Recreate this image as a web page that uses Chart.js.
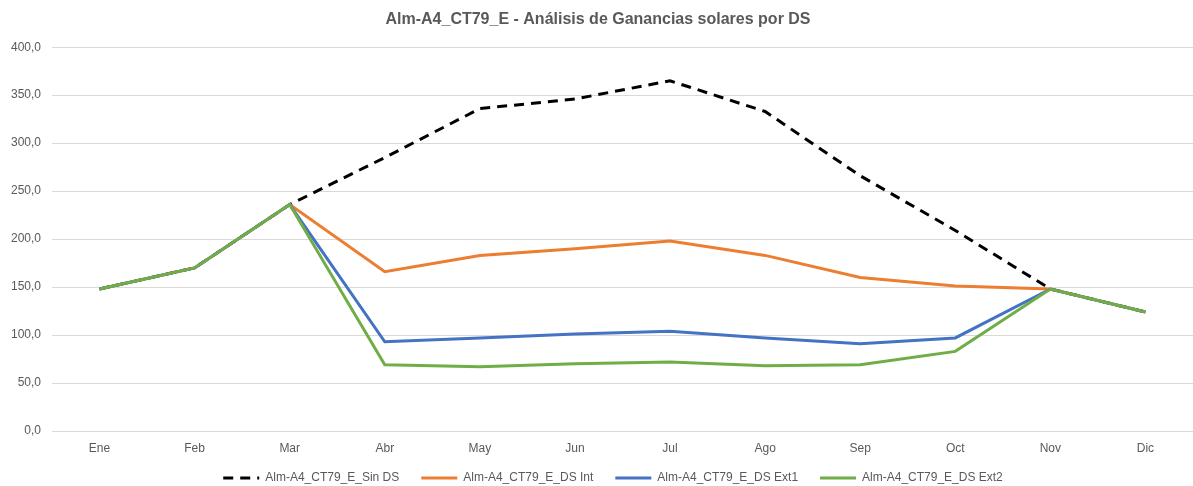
<!DOCTYPE html>
<html>
<head>
<meta charset="utf-8">
<script src="https://cdn.jsdelivr.net/npm/chart.js@4"></script>
<style>
  html, body { margin: 0; padding: 0; background: #fff; }
  #wrap { width: 1193px; height: 486px; position: relative; }
</style>
</head>
<body>
<div id="wrap"><canvas id="solarChart"></canvas></div>
<script>
// Monthly labels and series
const months = ['Ene', 'Feb', 'Mar', 'Abr', 'May', 'Jun', 'Jul', 'Ago', 'Sep', 'Oct', 'Nov', 'Dic'];
const sinDS  = [148, 170, 236, 285, 336, 346, 365, 333, 266, 209, 148, 124];
const dsInt  = [148, 170, 236, 166, 183, 190, 198, 183, 160, 151, 148, 124];
const dsExt1 = [148, 170, 236, 93, 97, 101, 104, 97, 91, 97, 148, 124];
const dsExt2 = [148, 170, 236, 69, 67, 70, 72, 68, 69, 83, 148, 124];
const seriesNames = ['Alm-A4_CT79_E_Sin DS', 'Alm-A4_CT79_E_DS Int', 'Alm-A4_CT79_E_DS Ext1', 'Alm-A4_CT79_E_DS Ext2'];

document.addEventListener('DOMContentLoaded', () => {
    const ctx = document.getElementById('solarChart');
    const textColor = '#595959';
    const fontFamily = "'Liberation Sans', Arial, sans-serif";

    const mk = (label, data, color, order, dash) => ({
        label: label,
        data: data,
        borderColor: color,
        backgroundColor: color,
        borderWidth: 3,
        borderDash: dash || [],
        pointRadius: 0,
        pointHoverRadius: 0,
        tension: 0,
        fill: false,
        order: order
    });

    // legend row: short box, wide item spacing, nudged into place
    const legendFit = {
        id: 'legendFit',
        afterInit(chart) {
            const lg = chart.legend;
            if (!lg) return;
            const fit = lg.fit.bind(lg);
            const drawItems = lg._draw.bind(lg);
            lg.fit = function () { fit(); this.height = 29; };
            lg._draw = function () {
                const c = this.ctx;
                c.save();
                c.translate(15, -7);
                drawItems();
                c.restore();
            };
        }
    };

    new Chart(ctx, {
        type: 'line',
        data: {
            labels: months,
            datasets: [
                mk(seriesNames[0], sinDS, '#000000', 3, [10, 7]),
                mk(seriesNames[1], dsInt, '#ED7D31', 2),
                mk(seriesNames[2], dsExt1, '#4472C4', 1),
                mk(seriesNames[3], dsExt2, '#70AD47', 0)
            ]
        },
        options: {
            responsive: true,
            maintainAspectRatio: false,
            animation: false,
            layout: { padding: { left: 0, right: -3, top: 10, bottom: 0 } },
            plugins: {
                title: {
                    display: true,
                    text: 'Alm-A4_CT79_E - Análisis de Ganancias solares por DS',
                    color: textColor,
                    font: { family: fontFamily, size: 16, weight: 'bold' },
                    padding: { top: 0, bottom: 18 }
                },
                legend: {
                    position: 'bottom',
                    labels: {
                        color: textColor,
                        usePointStyle: true,
                        pointStyle: 'line',
                        pointStyleWidth: 36,
                        padding: 22,
                        font: { family: fontFamily, size: 12 },
                        sort: (a, b) => a.datasetIndex - b.datasetIndex,
                        generateLabels: (chart) => {
                            const items = Chart.defaults.plugins.legend.labels.generateLabels(chart);
                            items.forEach(it => {
                                const ds = chart.data.datasets[it.datasetIndex];
                                it.lineDash = ds.borderDash;
                                it.lineWidth = 3;
                            });
                            return items;
                        }
                    }
                },
                tooltip: { enabled: false }
            },
            scales: {
                x: {
                    offset: true,
                    grid: { display: false, drawTicks: false },
                    border: { display: false },
                    ticks: { color: textColor, font: { family: fontFamily, size: 12 }, padding: 10 },
                    afterFit: (s) => { s.height = 26; }
                },
                y: {
                    min: 0,
                    max: 400,
                    ticks: {
                        stepSize: 50,
                        color: textColor,
                        font: { family: fontFamily, size: 12 },
                        padding: 11,
                        callback: (v) => v.toFixed(1).replace('.', ',')
                    },
                    grid: { color: '#d9d9d9', lineWidth: 1, drawTicks: false },
                    border: { display: false },
                    afterFit: (s) => { s.width = 52; }
                }
            }
        },
        plugins: [legendFit]
    });
});
</script>
</body>
</html>
